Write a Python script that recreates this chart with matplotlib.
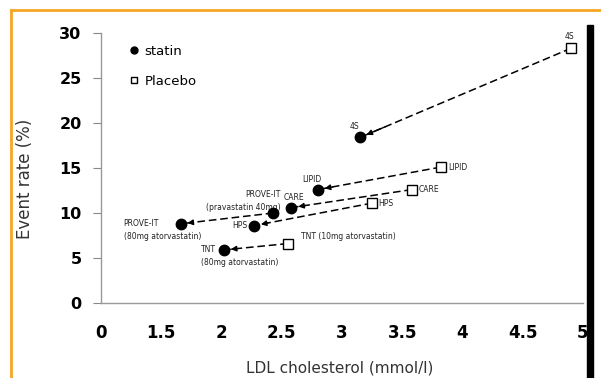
import matplotlib
matplotlib.use("Agg")
import matplotlib.pyplot as plt
from matplotlib.lines import Line2D
from matplotlib.patches import Rectangle
import numpy as np

# ---- data ----
trials = ["4S", "LIPID", "CARE", "PROVE-IT", "HPS", "TNT"]
statin_ldl = [3.15, 2.80, 2.58, 1.66, 2.27, 2.02]
statin_rate = [18.4, 12.6, 10.6, 8.8, 8.6, 5.9]
comp_ldl = [4.90, 3.82, 3.58, 2.43, 3.25, 2.55]
comp_rate = [28.3, 15.1, 12.6, 10.0, 11.1, 6.6]
comp_is_statin = [False, False, False, True, False, False]

statin_labels = ["4S", "LIPID", "CARE", "PROVE-IT\n(80mg atorvastatin)", "HPS",
                 "TNT\n(80mg atorvastatin)"]
comp_labels = ["4S", "LIPID", "CARE", "PROVE-IT\n(pravastatin 40mg)", "HPS",
               "TNT (10mg atorvastatin)"]

x_ticks = [1, 1.5, 2, 2.5, 3, 3.5, 4, 4.5, 5]
x_ticklabels = ["0", "1.5", "2", "2.5", "3", "3.5", "4", "4.5", "5"]
x_minor = [1.5, 2.5, 3.5, 4.5]
y_ticks = [0, 5, 10, 15, 20, 25, 30]

# label styles (offsets in pixels)
statin_lab_style = [
    dict(off=(-6, 11), ha="center", va="center"),
    dict(off=(-6, 10), ha="center", va="center"),
    dict(off=(3, 10), ha="center", va="center"),
    dict(off=(-57, -6), ha="left", va="center"),
    dict(off=(-7, 0), ha="right", va="center"),
    dict(off=(-23, -6), ha="left", va="center"),
]
comp_lab_style = [
    dict(off=(-2, 12), ha="center", va="center"),
    dict(off=(7, 0), ha="left", va="center"),
    dict(off=(7, 0), ha="left", va="center"),
    dict(off=(7, 12), ha="right", va="center"),
    dict(off=(6, 0), ha="left", va="center"),
    dict(off=(13, 7), ha="left", va="center"),
]

fig = plt.figure(figsize=(6.01, 3.78), dpi=100)
fig.patch.set_facecolor("white")
ax = fig.add_axes([101 / 601, 1 - 303 / 378, 482 / 601, 270 / 378])

ax.set_xlim(1, 5)
ax.set_ylim(0, 30)

# lines + arrows
for i in range(len(trials)):
    ax.plot([comp_ldl[i], statin_ldl[i]], [comp_rate[i], statin_rate[i]],
            color="black", lw=1.1, ls=(0, (5, 2.5)), zorder=2)
    sx, sy = statin_ldl[i], statin_rate[i]
    cx, cy = comp_ldl[i], comp_rate[i]
    tx = sx + (cx - sx) * 0.12
    ty = sy + (cy - sy) * 0.12
    ax.annotate("", xy=(sx, sy), xytext=(tx, ty),
                arrowprops=dict(arrowstyle="-|>", color="black", lw=1,
                                shrinkA=0, shrinkB=5, mutation_scale=8),
                zorder=3)

# markers
ax.plot(statin_ldl, statin_rate, "o", ms=7.5, mfc="black", mec="black",
        ls="none", zorder=4)
for i in range(len(trials)):
    if comp_is_statin[i]:
        ax.plot(comp_ldl[i], comp_rate[i], "o", ms=7.5, mfc="black",
                mec="black", zorder=4)
    else:
        ax.plot(comp_ldl[i], comp_rate[i], "s", ms=6.5, mfc="white",
                mec="black", mew=1, zorder=4)

# labels
for i in range(len(trials)):
    st = statin_lab_style[i]
    ax.annotate(statin_labels[i], (statin_ldl[i], statin_rate[i]),
                xytext=st["off"], textcoords="offset pixels",
                ha=st["ha"], va=st["va"], fontsize=5.5, color="#222",
                linespacing=1.5, annotation_clip=False)
    st = comp_lab_style[i]
    ax.annotate(comp_labels[i], (comp_ldl[i], comp_rate[i]),
                xytext=st["off"], textcoords="offset pixels",
                ha=st["ha"], va=st["va"], fontsize=5.5, color="#222",
                linespacing=1.5, annotation_clip=False)

# axes styling
for s in ["top", "right"]:
    ax.spines[s].set_visible(False)
for s in ["left", "bottom"]:
    ax.spines[s].set_color("#999999")
    ax.spines[s].set_linewidth(1)

ax.set_xticks(x_ticks)
ax.set_xticklabels(x_ticklabels, fontsize=12, fontweight="bold")
ax.set_xticks(x_minor, minor=True)
ax.tick_params(axis="x", which="major", length=0, pad=15)
ax.tick_params(axis="x", which="minor", length=7, color="#888", direction="out")
ax.set_yticks(y_ticks)
ax.set_yticklabels([str(v) for v in y_ticks], fontsize=11.5, fontweight="bold")
ax.tick_params(axis="y", length=6, color="#888", pad=8)

ax.set_xlabel("LDL cholesterol (mmol/l)", fontsize=11, color="#333")
ax.xaxis.set_label_coords(0.496, -0.212)
ax.set_ylabel("Event rate (%)", fontsize=12, color="#333")
ax.yaxis.set_label_coords(-0.138, 0.46)

# legend
handles = [Line2D([], [], marker="o", color="black", ls="none", ms=5),
           Line2D([], [], marker="s", mfc="white", mec="black", ls="none", ms=4.5)]
leg = ax.legend(handles, ["statin", "Placebo"], loc="upper left",
                bbox_to_anchor=(0.035, 1.0), frameon=False, fontsize=9.5,
                handlelength=0.6, handletextpad=0.5, labelspacing=1.3)

# decorations: orange border and dark right bar
fig.add_artist(Line2D([11 / 601, 11 / 601], [0, 1 - 10 / 378],
                      transform=fig.transFigure, color="#F5A623", lw=2))
fig.add_artist(Line2D([11 / 601, 1], [1 - 10 / 378, 1 - 10 / 378],
                      transform=fig.transFigure, color="#F5A623", lw=2))
fig.add_artist(Rectangle((587 / 601, 0), 6 / 601, 1 - 25 / 378,
                         transform=fig.transFigure, color="black"))

fig.savefig("out.png", dpi=100)
